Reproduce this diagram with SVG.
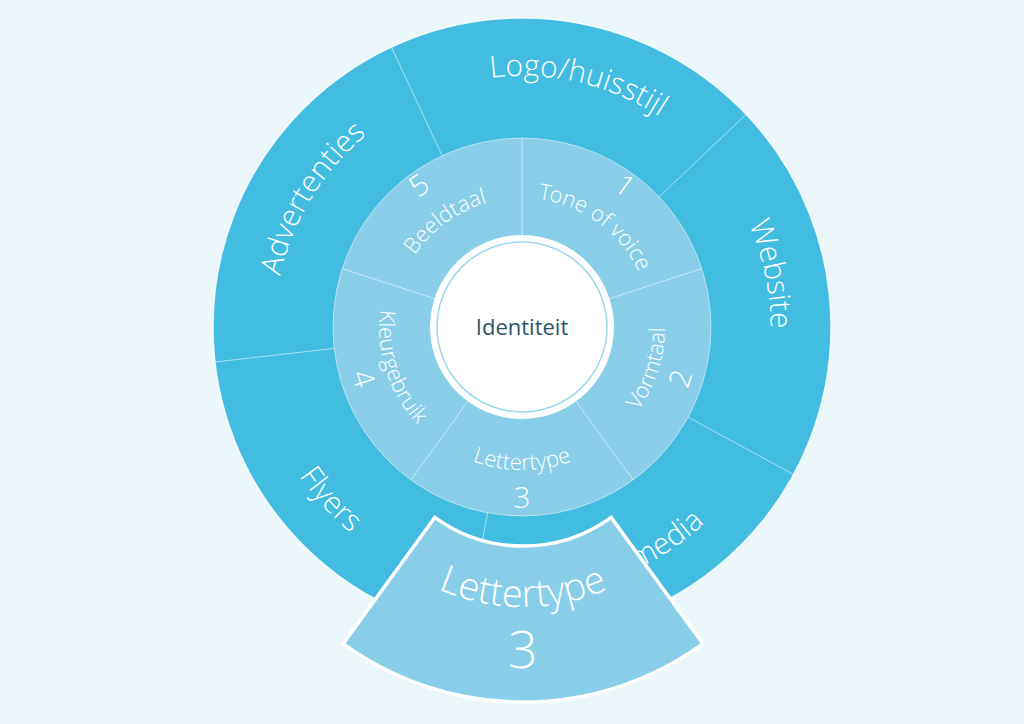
<svg xmlns="http://www.w3.org/2000/svg" xmlns:xlink="http://www.w3.org/1999/xlink" width="1024" height="724" viewBox="0 0 1024 724">
<style>
.lbl{font-family:"Open Sans Light","Open Sans","Liberation Sans",sans-serif;font-weight:300;fill:#ffffff;}
.in{font-size:22px;}
.num{font-size:29px;}
.out{font-size:30px;}
.sep{stroke:#ffffff;stroke-opacity:0.55;stroke-width:1;fill:none;}
</style>
<defs>
<path id="pTone" d="M417.6,251.2 A129,129 0 0 1 626.4,402.8"/>
<path id="pBeeld" d="M417.6,402.8 A129,129 0 0 1 626.4,251.2"/>
<path id="n1" d="M388.5,230 A165,165 0 0 1 655.5,424"/>
<path id="n5" d="M388.5,424 A165,165 0 0 1 655.5,230"/>
<path id="pVorm" d="M477.8,463 A143,143 0 0 0 566.2,191"/>
<path id="pLetter" d="M379,327 A143,143 0 0 0 665,327"/>
<path id="pKleur" d="M477.8,191 A143,143 0 0 0 566.2,463"/>
<path id="n2" d="M466.1,499.1 A181,181 0 0 0 577.9,154.9"/>
<path id="n3" d="M341,327 A181,181 0 0 0 703,327"/>
<path id="n4" d="M466.1,154.9 A181,181 0 0 0 577.9,499.1"/>
<path id="pLogo" d="M277.4,270.5 A251,251 0 0 1 766.6,383.5"/>
<path id="pWeb" d="M469.8,81.5 A251,251 0 0 1 574.2,572.5"/>
<path id="pAdv" d="M390.9,541 A251,251 0 0 1 653.1,113"/>
<path id="pFly" d="M342.7,127.8 A268,268 0 0 0 701.3,526.2"/>
<path id="pSoc" d="M279.1,440.3 A268,268 0 0 0 764.9,213.7"/>
<path id="pBig" d="M312,396 A211,211 0 0 0 734,396"/>
<path id="pBig3" d="M251,396 A272,272 0 0 0 795,396"/>
</defs>
<rect x="0" y="0" width="1024" height="724" fill="#ebf7fb"/>

<g id="outer-ring">
<circle cx="522" cy="327" r="309" fill="#42bde1" stroke="#ffffff" stroke-opacity="0.8" stroke-width="1.5"/>
</g>
<g id="middle-ring">
<circle cx="522" cy="327" r="189" fill="#88cee8" stroke="#ffffff" stroke-opacity="0.5" stroke-width="1"/>
</g>

<g id="connectors">
<line class="sep" x1="442.1" y1="155.7" x2="391.4" y2="47"/>
<line class="sep" x1="659.1" y1="196.9" x2="746.1" y2="114.3"/>
<line class="sep" x1="688.1" y1="417.2" x2="793.5" y2="474.5"/>
<line class="sep" x1="487.6" y1="512.8" x2="465.7" y2="630.8"/>
<line class="sep" x1="334.2" y1="348.4" x2="215" y2="362"/>
<line class="sep" x1="522" y1="235" x2="522" y2="138"/>
<line class="sep" x1="609.5" y1="298.6" x2="701.8" y2="268.6"/>
<line class="sep" x1="576.1" y1="401.4" x2="633.1" y2="479.9"/>
<line class="sep" x1="467.9" y1="401.4" x2="410.9" y2="479.9"/>
<line class="sep" x1="434.5" y1="298.6" x2="342.2" y2="268.6"/>
</g>

<g id="center">
<circle cx="522" cy="327" r="92" fill="#ffffff"/>
<circle cx="522" cy="327" r="85" fill="none" stroke="#9dd8ee" stroke-width="1.5"/>
<text x="522" y="335" text-anchor="middle" font-family="'Open Sans','Liberation Sans',sans-serif" font-size="22" fill="#2b5468">Identiteit</text>
</g>

<g id="seg-tone-of-voice">
<text class="lbl in"><textPath href="#pTone" xlink:href="#pTone" startOffset="50%" text-anchor="middle">Tone of voice</textPath></text>
<text class="lbl num"><textPath href="#n1" xlink:href="#n1" startOffset="50%" text-anchor="middle">1</textPath></text>
</g>
<g id="seg-vormtaal">
<text class="lbl in"><textPath href="#pVorm" xlink:href="#pVorm" startOffset="50%" text-anchor="middle">Vormtaal</textPath></text>
<text class="lbl num"><textPath href="#n2" xlink:href="#n2" startOffset="50%" text-anchor="middle">2</textPath></text>
</g>
<g id="seg-lettertype">
<text class="lbl in"><textPath href="#pLetter" xlink:href="#pLetter" startOffset="50%" text-anchor="middle">Lettertype</textPath></text>
<text class="lbl num"><textPath href="#n3" xlink:href="#n3" startOffset="50%" text-anchor="middle">3</textPath></text>
</g>
<g id="seg-kleurgebruik">
<text class="lbl in"><textPath href="#pKleur" xlink:href="#pKleur" startOffset="50%" text-anchor="middle">Kleurgebruik</textPath></text>
<text class="lbl num"><textPath href="#n4" xlink:href="#n4" startOffset="50%" text-anchor="middle">4</textPath></text>
</g>
<g id="seg-beeldtaal">
<text class="lbl in"><textPath href="#pBeeld" xlink:href="#pBeeld" startOffset="50%" text-anchor="middle">Beeldtaal</textPath></text>
<text class="lbl num"><textPath href="#n5" xlink:href="#n5" startOffset="50%" text-anchor="middle">5</textPath></text>
</g>

<g id="out-logo">
<text class="lbl out"><textPath href="#pLogo" xlink:href="#pLogo" startOffset="50%" text-anchor="middle">Logo/huisstijl</textPath></text>
</g>
<g id="out-website">
<text class="lbl out"><textPath href="#pWeb" xlink:href="#pWeb" startOffset="50%" text-anchor="middle">Website</textPath></text>
</g>
<g id="out-social">
<text class="lbl out"><textPath href="#pSoc" xlink:href="#pSoc" startOffset="50%" text-anchor="middle">Social media</textPath></text>
</g>
<g id="out-flyers">
<text class="lbl out"><textPath href="#pFly" xlink:href="#pFly" startOffset="50%" text-anchor="middle">Flyers</textPath></text>
</g>
<g id="out-advertenties">
<text class="lbl out"><textPath href="#pAdv" xlink:href="#pAdv" startOffset="50%" text-anchor="middle">Advertenties</textPath></text>
</g>

<g id="callout-lettertype">
<path d="M434.8,517.4 A150,150 0 0 0 611.2,517.4 L702.9,643.6 A306,306 0 0 1 343.1,643.6 Z" fill="#88cee8" stroke="#ffffff" stroke-width="3.5" stroke-linejoin="miter"/>
<text class="lbl" font-size="38"><textPath href="#pBig" xlink:href="#pBig" startOffset="50%" text-anchor="middle">Lettertype</textPath></text>
<text class="lbl" font-size="52"><textPath href="#pBig3" xlink:href="#pBig3" startOffset="50%" text-anchor="middle">3</textPath></text>
</g>
</svg>
